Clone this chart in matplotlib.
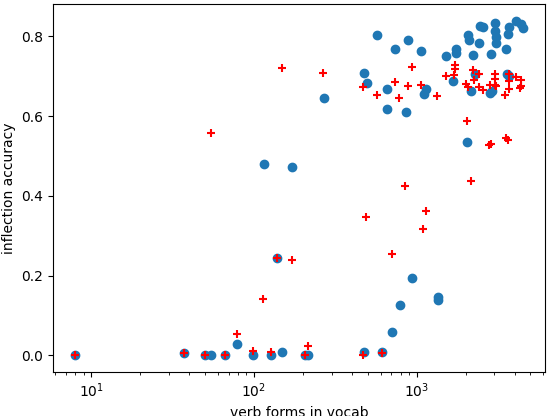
import matplotlib
matplotlib.use("Agg")
import matplotlib.pyplot as plt

# vocab size (verb forms) and accuracy
blue_x = [8, 37.3, 50, 54.6, 66.4, 78.5, 99, 126.5, 149.6, 139, 114.8, 172,
          205, 214, 472, 615, 708, 785, 937, 1348, 1348, 270, 574, 885, 738,
          1062, 472, 492, 660, 1135, 1108, 660, 857, 1521, 1733, 1733, 2080,
          2110, 2207, 2427, 2461, 2541, 3040, 3040, 3060, 3060, 2860, 3520,
          3650, 3720, 4060, 4400, 4480, 1670, 2296, 2160, 2818, 2900, 3575,
          3690, 2052]
blue_y = [0.0, 0.005, 0.0, 0.0, 0.0, 0.029, 0.0, 0.0, 0.009, 0.243, 0.479,
          0.471, 0.0, 0.0, 0.009, 0.007, 0.059, 0.125, 0.195, 0.146, 0.138,
          0.646, 0.804, 0.790, 0.767, 0.762, 0.709, 0.684, 0.669, 0.667,
          0.654, 0.617, 0.609, 0.750, 0.767, 0.758, 0.802, 0.790, 0.753,
          0.782, 0.826, 0.823, 0.833, 0.812, 0.797, 0.782, 0.756, 0.768,
          0.806, 0.824, 0.839, 0.831, 0.822, 0.687, 0.706, 0.662, 0.659,
          0.662, 0.706, 0.700, 0.536]

red_x = [8, 37.3, 50, 66.4, 78.5, 99, 126.5, 114.3, 139, 171.4, 149, 54.2,
         267, 205, 214, 470, 615, 705, 488, 1135, 1099, 853, 2149, 2034, 2766,
         2846, 3557, 3656, 933, 468, 569, 735, 774, 881, 1057, 1340, 1507,
         1690, 1726, 1726, 2024, 2080, 2207, 2259, 2427, 2427, 2541, 3010,
         3010, 3010, 3060, 2830, 3475, 3720, 3720, 3720, 4060, 4400, 4400,
         4340]
red_y = [0.0, 0.005, 0.0, 0.0, 0.053, 0.010, 0.008, 0.141, 0.243, 0.238,
         0.720, 0.557, 0.709, 0.0, 0.023, 0.0, 0.005, 0.254, 0.347, 0.361,
         0.316, 0.424, 0.436, 0.588, 0.527, 0.531, 0.546, 0.541, 0.723, 0.673,
         0.652, 0.685, 0.645, 0.675, 0.678, 0.650, 0.700, 0.704, 0.729, 0.719,
         0.680, 0.674, 0.715, 0.690, 0.706, 0.673, 0.665, 0.706, 0.694, 0.679,
         0.675, 0.679, 0.652, 0.706, 0.687, 0.669, 0.698, 0.690, 0.675, 0.670]

fig = plt.figure(figsize=(5.5, 4.16), dpi=100)
ax = fig.add_axes([53 / 550, 1 - 372 / 416, 492 / 550, 368 / 416])

ax.scatter(blue_x, blue_y, color='#1f77b4')
ax.scatter(red_x, red_y, color='red', marker='+', linewidths=1.5)

ax.set_xscale('log')
ax.set_xlabel("verb forms in vocab")
ax.set_ylabel("inflection accuracy")

fig.savefig("out.png", dpi=100)
